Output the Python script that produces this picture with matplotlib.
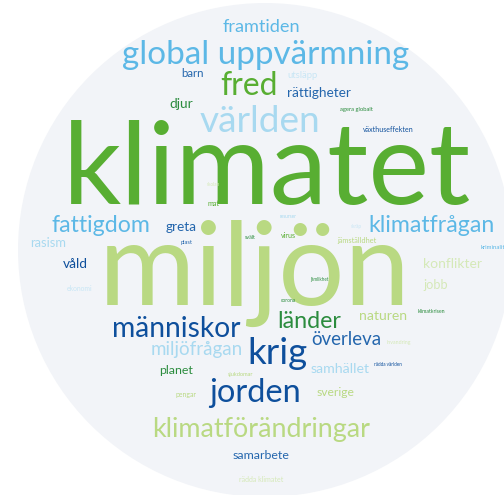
import matplotlib
matplotlib.use('Agg')
import matplotlib.pyplot as plt
from matplotlib.patches import Circle

# ---------------------------------------------------------------------------
# Data: words of the cloud and their colour group
# ---------------------------------------------------------------------------
words = [
    'framtiden', 'global uppvärmning', 'barn', 'fred', 'utsläpp', 'rättigheter',
    'djur', 'agera globalt', 'världen', 'växthuseffekten', 'klimatet', 'skolan',
    'mat', 'fattigdom', 'greta', 'resurser', 'skräp', 'klimatfrågan', 'rasism',
    'plast', 'svält', 'virus', 'jämställdhet', 'kriminalitet', 'våld', 'miljön',
    'konflikter', 'jobb', 'ekonomi', 'jämlikhet', 'corona', 'klimatkrisen',
    'naturen', 'länder', 'människor', 'överleva', 'invandring', 'miljöfrågan',
    'krig', 'samhället', 'rädda världen', 'planet', 'sjukdomar', 'pengar',
    'jorden', 'sverige', 'klimatförändringar', 'samarbete', 'rädda klimatet',
]
groups = [
    'sky', 'sky', 'blue', 'green', 'pale_blue', 'blue',
    'dgreen', 'dgreen', 'lblue', 'dblue', 'green', 'pale_green',
    'green', 'sky', 'blue', 'lblue', 'pale_blue', 'sky', 'lblue',
    'blue', 'dgreen', 'green', 'lgreen', 'sky', 'dblue', 'lgreen',
    'pale_green', 'pale_green', 'pale_blue', 'dgreen', 'dgreen', 'dgreen',
    'lgreen', 'dgreen', 'dblue', 'blue', 'pale_green', 'lblue',
    'dblue', 'lblue', 'dblue', 'dgreen', 'lgreen', 'lgreen',
    'dblue', 'lgreen', 'lgreen', 'blue', 'pale_green',
]

# ---------------------------------------------------------------------------
# Layout (pixels): x centre, baseline y, rendered width
# ---------------------------------------------------------------------------
x_pos = [261, 266, 192, 249, 303, 319, 181, 356, 260, 388, 267, 213,
         213, 101, 181, 288, 356, 431, 48, 187, 250, 288, 357, 481, 75, 255,
         452, 436, 80, 319, 288, 431, 383, 309, 176, 346, 399, 197,
         277, 340, 388, 176, 240, 186, 255, 335, 261, 261, 261]
base_y = [32, 64, 77, 95, 78, 97, 108, 111, 132, 132, 204, 186,
          206, 232, 231, 218, 228, 232, 247, 244, 239, 238, 243, 249, 268, 305,
          268, 289, 291, 281, 302, 313, 320, 328, 337, 345, 344, 355,
          364, 373, 366, 374, 376, 397, 402, 396, 437, 459, 482]
widths = [78, 287, 23, 58, 30, 64, 24, 33, 121, 50, 409, 13,
          12, 99, 31, 17, 11, 126, 36, 12, 11, 15, 39, 30, 25, 313,
          59, 25, 26, 18, 15, 28, 48, 64, 129, 70, 24, 92,
          60, 59, 28, 34, 26, 21, 93, 38, 219, 57, 44]

COLORS = {
    'sky':        '#5cb8e6',
    'lblue':      '#a8d9f0',
    'pale_blue':  '#c8e6f5',
    'blue':       '#2466ad',
    'dblue':      '#0e4f9c',
    'green':      '#58ae32',
    'dgreen':     '#2b8c3e',
    'lgreen':     '#b9d982',
    'pale_green': '#d5e9b8',
}

W, H = 504, 495
fig = plt.figure(figsize=(W / 100, H / 100), dpi=100)
ax = fig.add_axes([0, 0, 1, 1])
ax.set_xlim(0, W)
ax.set_ylim(H, 0)
ax.axis('off')

ax.add_patch(Circle((265, 250), 247, facecolor='#f2f4f8', edgecolor='none'))

renderer = fig.canvas.get_renderer()
for word, grp, x, y, w in zip(words, groups, x_pos, base_y, widths):
    ha = 'left' if word == 'kriminalitet' else 'center'
    t = ax.text(x, y, word, ha=ha, va='baseline', fontsize=10,
                family=['Lato', 'DejaVu Sans'], color=COLORS[grp])
    w0 = t.get_window_extent(renderer).width
    t.set_fontsize(10 * w / w0)

fig.savefig('out.png', dpi=100)
